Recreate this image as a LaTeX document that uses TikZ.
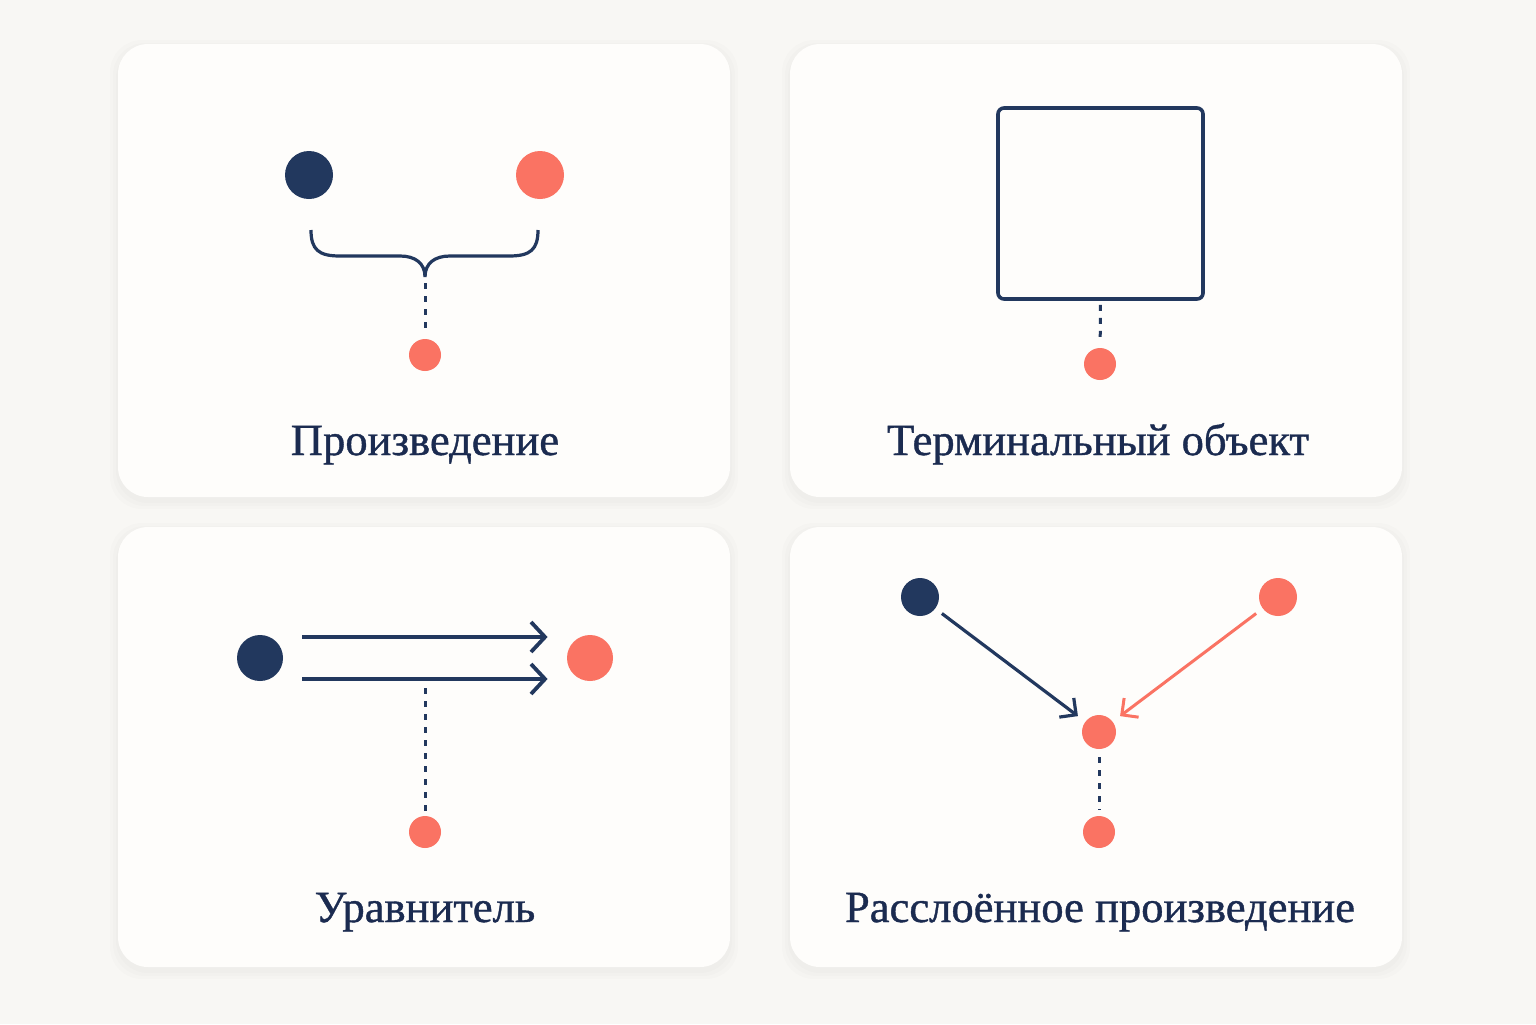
\documentclass[tikz,border=0pt]{standalone}
\usepackage{fontspec}
\setmainfont{Liberation Serif}
\newfontfamily\capfont[FakeBold=0.9]{Liberation Serif}
\usetikzlibrary{arrows.meta}

\definecolor{navy}{HTML}{22385E}
\definecolor{coral}{HTML}{FA7363}
\definecolor{ink}{HTML}{1B2B50}
\definecolor{paper}{HTML}{F8F7F4}
\definecolor{cardbg}{HTML}{FEFDFB}

\tikzset{
  card/.style={fill=cardbg, rounded corners=15pt},
  bigdot/.style={circle, inner sep=0pt, minimum size=24pt},
  smalldot/.style={circle, fill=coral, inner sep=0pt, minimum size=16pt},
  link/.style={navy, line width=1.5pt, dash pattern=on 3pt off 3.5pt},
  arr/.style={navy, line width=1.9pt, -{Straight Barb[length=7pt,width=15pt]}},
  caption/.style={text=ink, font=\capfont\fontsize{22.3}{26}\selectfont, anchor=base},
}

\begin{document}
\begin{tikzpicture}[x=0.5pt,y=-0.5pt]

  \fill[paper] (0,0) rectangle (1536,1024);

  % cards with soft shadow
  \foreach \x/\y/\h in {118/44/453, 790/44/453, 118/527/440, 790/527/440} {
    \foreach \s in {2,5,8}
      \fill[black,opacity=0.012,rounded corners=16pt] (\x-\s,\y-\s+4) rectangle (\x+612+\s,\y+\h+\s+4);
    \fill[card] (\x,\y) rectangle ++(612,\h);
  }

  % product
  \node[bigdot,fill=navy] (a1) at (309,175) {};
  \node[bigdot,fill=coral] (b1) at (540,175) {};
  \node[smalldot] (p1) at (425,355) {};
  \draw[navy,line width=1.6pt] (311,230) .. controls (311,250) and (319,256) .. (340,256)
    -- (400,256) .. controls (415,256) and (425,263) .. (425,277)
    .. controls (425,263) and (435,256) .. (450,256) -- (509,256)
    .. controls (530,256) and (538,250) .. (538,230);
  \coordinate (tip1) at (425,283);
  \draw[link,shorten >=2pt] (tip1) -- (p1);
  \node[caption] (cap1) at (425,455) {Произведение};

  % terminal object
  \node[draw=navy,line width=1.8pt,rounded corners=3pt,inner sep=0pt,
        minimum width=102.5pt,minimum height=95.5pt] (sq) at (1100.5,203.5) {};
  \node[smalldot] (t1) at (1100,364) {};
  \draw[link,shorten <=2pt,shorten >=2pt] (sq.south) -- (t1);
  \node[caption] (cap2) at (1098,455) {Терминальный объект};

  % equalizer
  \node[bigdot,fill=navy,minimum size=23pt] (e1) at (260,658) {};
  \node[bigdot,fill=coral,minimum size=23pt] (e2) at (590,658) {};
  \node[smalldot] (q1) at (425,832) {};
  \draw[arr,shorten <=9.5pt,shorten >=9.5pt] ([yshift=10.5pt]e1.east) -- ([yshift=10.5pt]e2.west);
  \draw[arr,shorten <=9.5pt,shorten >=9.5pt] ([yshift=-10.5pt]e1.east) -- ([yshift=-10.5pt]e2.west);
  \coordinate (q0) at (425,688);
  \draw[link,shorten >=2pt] (q0) -- (q1);
  \node[caption] (cap3) at (425,922) {Уравнитель};

  % pullback
  \node[bigdot,fill=navy,minimum size=19pt] (f1) at (920,597) {};
  \node[bigdot,fill=coral,minimum size=19pt] (f2) at (1278,597) {};
  \node[bigdot,fill=coral,minimum size=17pt] (pb) at (1099,732) {};
  \node[smalldot] (r1) at (1099,832) {};
  \draw[navy,line width=1.6pt,-{Straight Barb[length=6pt,width=12pt]},shorten <=4pt,shorten >=4.5pt] (f1) -- (pb);
  \draw[coral,line width=1.5pt,-{Straight Barb[length=6pt,width=12pt]},shorten <=4pt,shorten >=4.5pt] (f2) -- (pb);
  \draw[link,shorten <=4pt,shorten >=3pt] (pb) -- (r1);
  \node[caption] (cap4) at (1100,922) {Расслоённое произведение};

\end{tikzpicture}
\end{document}
